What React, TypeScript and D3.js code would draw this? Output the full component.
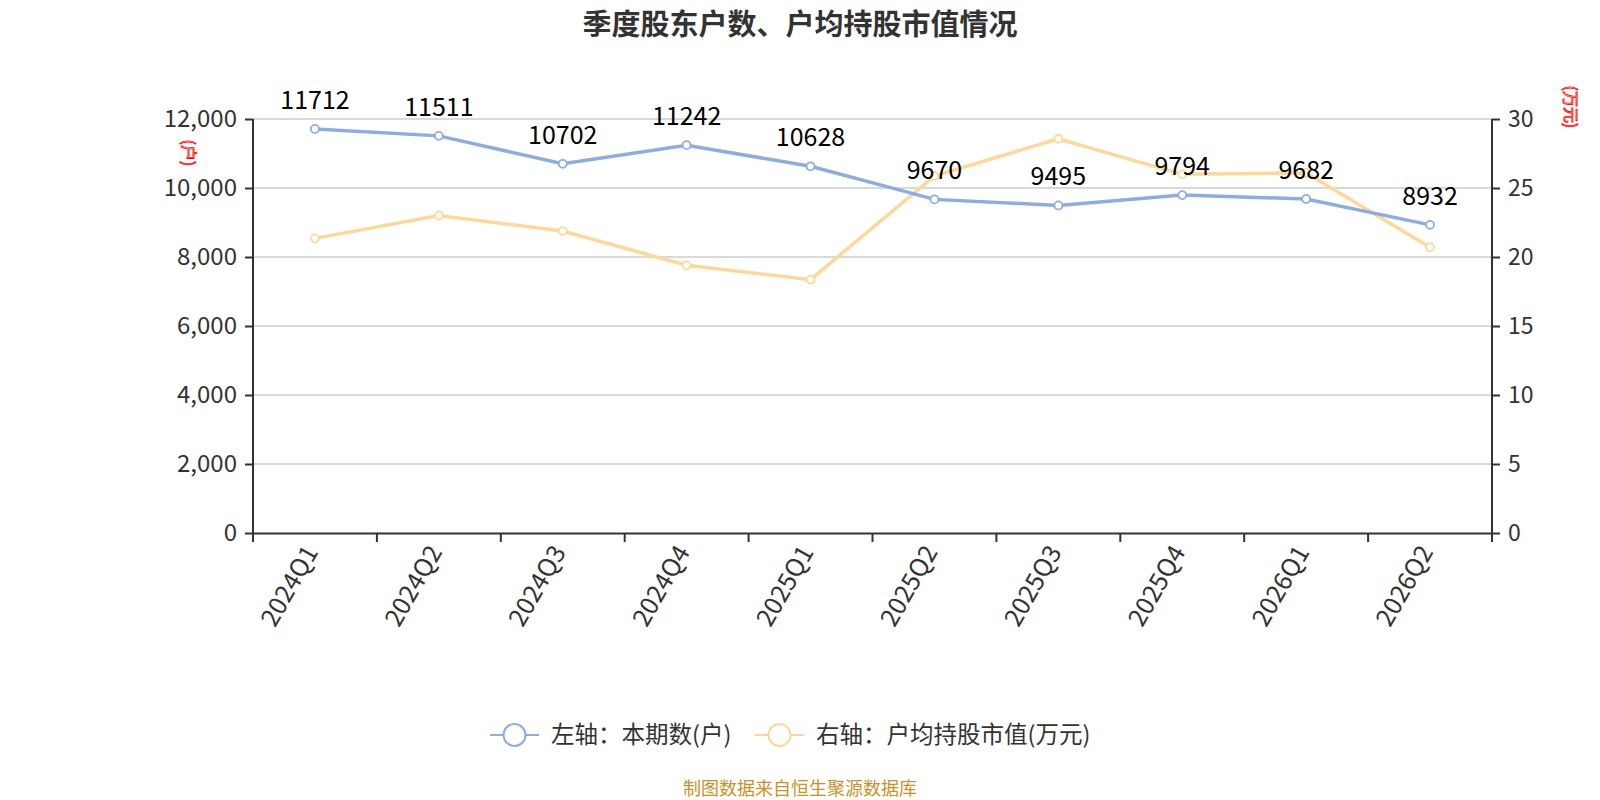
import * as d3 from 'd3';
import { useLayoutEffect, useRef } from 'react';

const quarters = [
  '2024Q1', '2024Q2', '2024Q3', '2024Q4', '2025Q1',
  '2025Q2', '2025Q3', '2025Q4', '2026Q1', '2026Q2',
];
const holders = [11712, 11511, 10702, 11242, 10628, 9670, 9495, 9794, 9682, 8932];
const avgValue = [21.35, 23.0, 21.88, 19.4, 18.36, 25.87, 28.57, 25.99, 26.09, 20.7];
const leftTicks = [0, 2000, 4000, 6000, 8000, 10000, 12000];
const rightTicks = [0, 5, 10, 15, 20, 25, 30];

const BLUE = '#8eadde';
const ORANGE = '#fdd89b';
const FONT = '"Noto Sans CJK SC", "Noto Sans", sans-serif';

export default function App() {
  const ref = useRef<SVGSVGElement>(null);

  useLayoutEffect(() => {
    if (!ref.current) return;
    const svg = d3.select(ref.current);
    svg.selectAll('*').remove();

    const margin = { top: 119, right: 108, bottom: 267, left: 253 };
    const W = 1600, H = 800;
    const width = W - margin.left - margin.right;
    const height = H - margin.top - margin.bottom;

    // title
    svg.append('text')
      .text('季度股东户数、户均持股市值情况')
      .attr('x', 800).attr('y', 35)
      .attr('text-anchor', 'middle')
      .attr('font-size', 29).attr('font-weight', 'bold')
      .attr('fill', '#333');

    const g = svg.append('g').attr('transform', `translate(${margin.left},${margin.top})`);

    const x = d3.scaleBand().domain(quarters).range([0, width]);
    const yL = d3.scaleLinear().domain([0, 12000]).range([height, 0]);
    const yR = d3.scaleLinear().domain([0, 30]).range([height, 0]);
    const cx = (d: string) => (x(d) ?? 0) + x.bandwidth() / 2;

    // grid
    g.append('g')
      .selectAll('line')
      .data(leftTicks.filter((t) => t > 0))
      .join('line')
      .attr('x1', 0).attr('x2', width)
      .attr('y1', (d) => yL(d)).attr('y2', (d) => yL(d))
      .attr('stroke', '#ccc').attr('stroke-width', 1.5);

    // left axis
    const left = g.append('g').call(
      d3.axisLeft(yL).tickValues(leftTicks).tickSize(8).tickPadding(8).tickFormat(d3.format(',')),
    );
    left.selectAll('text').attr('font-size', 24).attr('fill', '#333').attr('font-family', FONT);
    left.selectAll('line,path').attr('stroke', '#333').attr('stroke-width', 2);
    left.select('.domain').attr('d', `M0,0V${height}`);

    // right axis
    const right = g.append('g').attr('transform', `translate(${width},0)`).call(
      d3.axisRight(yR).tickValues(rightTicks).tickSize(8).tickPadding(8),
    );
    right.selectAll('text').attr('font-size', 23).attr('fill', '#333').attr('font-family', FONT);
    right.selectAll('line,path').attr('stroke', '#333').attr('stroke-width', 2);
    right.select('.domain').attr('d', `M0,0V${height}`);

    // bottom axis
    const bottom = g.append('g').attr('transform', `translate(0,${height})`).call(
      d3.axisBottom(x).tickSize(0).tickPadding(0),
    );
    bottom.select('.domain').attr('stroke', '#333').attr('stroke-width', 2);
    bottom.selectAll('.tick line').remove();
    g.append('g')
      .attr('transform', `translate(0,${height})`)
      .selectAll('line')
      .data(d3.range(quarters.length + 1))
      .join('line')
      .attr('x1', (i) => i * x.step()).attr('x2', (i) => i * x.step())
      .attr('y1', 0).attr('y2', 9)
      .attr('stroke', '#333').attr('stroke-width', 2);
    bottom.selectAll('.tick text')
      .attr('font-size', 25).attr('fill', '#333').attr('font-family', FONT)
      .attr('text-anchor', 'end')
      .attr('dy', 0)
      .attr('transform', 'translate(4,19) rotate(-60)');

    // axis names
    svg.append('text')
      .text('(户)')
      .attr('transform', `translate(183,153) rotate(90)`)
      .attr('text-anchor', 'middle')
      .attr('font-size', 16)
      .attr('fill', '#fff').attr('stroke', 'red').attr('stroke-width', 0.8);
    svg.append('text')
      .text('(万元)')
      .attr('transform', `translate(1565,107) rotate(90)`)
      .attr('text-anchor', 'middle')
      .attr('font-size', 16)
      .attr('fill', '#fff').attr('stroke', 'red').attr('stroke-width', 0.8);

    // lines
    const lineL = d3.line<number>().x((_, i) => cx(quarters[i])).y((d) => yL(d));
    const lineR = d3.line<number>().x((_, i) => cx(quarters[i])).y((d) => yR(d));

    g.append('path').datum(avgValue).attr('d', lineR)
      .attr('fill', 'none').attr('stroke', ORANGE).attr('stroke-width', 3.5);
    g.append('path').datum(holders).attr('d', lineL)
      .attr('fill', 'none').attr('stroke', BLUE).attr('stroke-width', 3.5);

    g.append('g').selectAll('circle').data(avgValue).join('circle')
      .attr('cx', (_, i) => cx(quarters[i])).attr('cy', (d) => yR(d)).attr('r', 4)
      .attr('fill', '#fff').attr('stroke', ORANGE).attr('stroke-width', 1.8);
    g.append('g').selectAll('circle').data(holders).join('circle')
      .attr('cx', (_, i) => cx(quarters[i])).attr('cy', (d) => yL(d)).attr('r', 4)
      .attr('fill', '#fff').attr('stroke', BLUE).attr('stroke-width', 1.8);

    // labels
    g.append('g').selectAll('text').data(holders).join('text')
      .text((d) => d)
      .attr('x', (_, i) => cx(quarters[i])).attr('y', (d) => yL(d) - 20)
      .attr('text-anchor', 'middle')
      .attr('font-size', 25).attr('fill', '#000');

    // legend
    const legendItems = [
      { name: '左轴：本期数(户)', color: BLUE, x: 490 },
      { name: '右轴：户均持股市值(万元)', color: ORANGE, x: 755 },
    ];
    const lg = svg.append('g').selectAll('g').data(legendItems).join('g')
      .attr('transform', (d) => `translate(${d.x},735)`);
    lg.append('line').attr('x1', 0).attr('x2', 49).attr('y1', 0).attr('y2', 0)
      .attr('stroke', (d) => d.color).attr('stroke-width', 2);
    lg.append('circle').attr('cx', 24.5).attr('cy', 0).attr('r', 11)
      .attr('fill', '#fff').attr('stroke', (d) => d.color).attr('stroke-width', 2);
    lg.append('text').text((d) => d.name)
      .attr('x', 61).attr('y', 8)
      .attr('font-size', 23.5).attr('fill', '#333');

    // footer
    svg.append('text')
      .text('制图数据来自恒生聚源数据库')
      .attr('x', 800).attr('y', 795)
      .attr('text-anchor', 'middle')
      .attr('font-size', 18).attr('fill', '#c9912a');
  }, []);

  return (
    <svg
      ref={ref}
      width={1600}
      height={800}
      style={{ position: 'fixed', top: 0, left: 0, display: 'block', fontFamily: FONT, background: '#fff' }}
    />
  );
}
